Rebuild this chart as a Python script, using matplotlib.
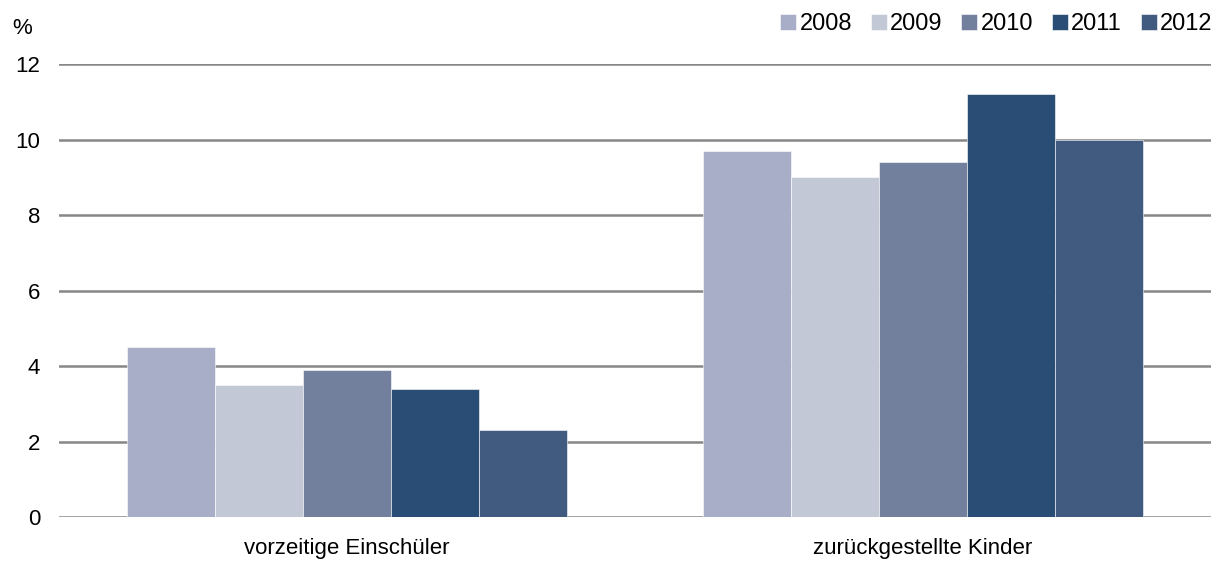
import matplotlib.pyplot as plt
import numpy as np

plt.rcParams['font.family'] = ['Liberation Sans', 'DejaVu Sans']

categories = ["vorzeitige Einschüler", "zurückgestellte Kinder"]
years = ["2008", "2009", "2010", "2011", "2012"]
values = {
    "2008": [4.5, 9.7],
    "2009": [3.5, 9.0],
    "2010": [3.9, 9.4],
    "2011": [3.4, 11.2],
    "2012": [2.3, 10.0],
}
colors = ["#a9aec8", "#c2c8d6", "#72809e", "#294d74", "#405a80"]

fig = plt.figure(figsize=(12.24, 5.61), dpi=100)
ax = fig.add_axes([0.0486, 0.078, 0.9404, 0.808])

x = np.arange(len(categories))
w = 0.153
for i, yr in enumerate(years):
    ax.bar(x + (i - 2) * w, values[yr], width=w, color=colors[i], label=yr,
           edgecolor="white", linewidth=0.4, zorder=3)

ax.set_xlim(-0.5, 1.5)
ax.set_ylim(0, 12)
ax.set_yticks(range(0, 13, 2))
ax.set_xticks(x)
ax.set_xticklabels(categories)
ax.yaxis.grid(True, color="#878787", linewidth=1.8, zorder=0)
ax.tick_params(axis="both", length=0, labelsize=16)
ax.tick_params(axis="y", pad=14)
ax.tick_params(axis="x", pad=15)
for s in ax.spines.values():
    s.set_visible(False)

fig.text(0.010, 0.94, "%", fontsize=16)

# legend across the top right, small square handles
fig.legend(loc="upper right", bbox_to_anchor=(1.0, 0.998), ncol=5, frameon=False,
           fontsize=17, handlelength=0.68, handleheight=0.68, handletextpad=0.13,
           columnspacing=0.8, borderaxespad=0.1)

fig.savefig("out.png", dpi=100)
